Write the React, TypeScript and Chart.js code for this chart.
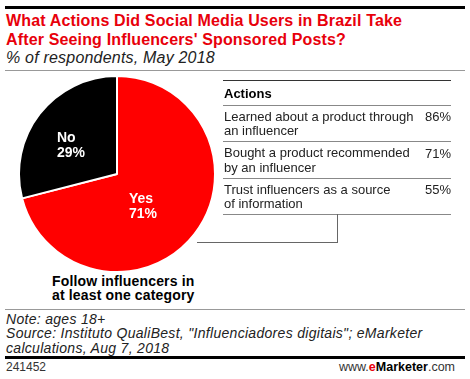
import React, { useEffect, useRef } from "react";
import { Chart, registerables } from "chart.js";

Chart.register(...registerables);

const categories = ["Yes", "No"];
const shares = [71, 29];
const sliceColors = ["#ff0000", "#000000"];

const actionLabels = [
  ["Learned about a product through", "an influencer"],
  ["Bought a product recommended", "by an influencer"],
  ["Trust influencers as a source", "of information"],
];
const actionValues = [86, 71, 55];

const FONT = "'Liberation Sans', Arial, sans-serif";

function baselineTop(baseline: number, size: number, lh: number) {
  return baseline - ((lh - 1.117 * size) / 2 + 0.905 * size);
}

function T(props: {
  x: number;
  baseline: number;
  size: number;
  lh?: number;
  bold?: boolean;
  italic?: boolean;
  color?: string;
  align?: "left" | "right";
  ls?: number;
  children: React.ReactNode;
}) {
  const lh = props.lh ?? Math.round(props.size * 1.15);
  const style: React.CSSProperties = {
    position: "absolute",
    top: baselineTop(props.baseline, props.size, lh),
    fontSize: props.size,
    lineHeight: lh + "px",
    fontWeight: props.bold ? 700 : 400,
    fontStyle: props.italic ? "italic" : "normal",
    color: props.color ?? "#000",
    whiteSpace: "nowrap",
    fontFamily: FONT,
    letterSpacing: props.ls ? props.ls + "px" : undefined,
  };
  if (props.align === "right") style.right = 470 - props.x;
  else style.left = props.x;
  return <div style={style}>{props.children}</div>;
}

function Line(p: { x: number; y: number; w: number; h: number; c: string }) {
  return (
    <div
      style={{
        position: "absolute",
        left: p.x,
        top: p.y,
        width: p.w,
        height: p.h,
        background: p.c,
      }}
    />
  );
}

export default function App() {
  const ref = useRef<HTMLCanvasElement | null>(null);
  useEffect(() => {
    if (!ref.current) return;
    const chart = new Chart(ref.current, {
      type: "pie",
      data: {
        labels: categories,
        datasets: [
          {
            data: shares,
            backgroundColor: sliceColors,
            borderColor: "#ffffff",
            borderWidth: 2,
          },
        ],
      },
      options: {
        responsive: false,
        animation: false,
        devicePixelRatio: 1,
        layout: { padding: 0 },
        plugins: { legend: { display: false }, tooltip: { enabled: false } },
      },
    });
    return () => chart.destroy();
  }, []);

  const rowLines = [105, 141, 178, 214];
  const rowBase = [121.5, 158, 194.5];

  return (
    <div
      style={{
        position: "fixed",
        left: 0,
        top: 0,
        width: 470,
        height: 379,
        background: "#fff",
        overflow: "hidden",
        fontFamily: FONT,
      }}
    >
      <Line x={5} y={6} w={460} h={3} c="#000" />
      <T x={6} baseline={26} size={16} lh={19} bold color="#e8000b" ls={0.15}>
        What Actions Did Social Media Users in Brazil Take
        <br />
        After Seeing Influencers' Sponsored Posts?
      </T>
      <T x={6} baseline={63.5} size={16} italic color="#222" ls={0.2}>
        % of respondents, May 2018
      </T>
      <Line x={5} y={70} w={460} h={1} c="#999" />

      <canvas
        ref={ref}
        width={198}
        height={198}
        style={{ position: "absolute", left: 18, top: 75, width: 198, height: 198 }}
      />
      <T x={57} baseline={142.5} size={14} lh={15} bold color="#fff">
        {categories[1]}
        <br />
        {shares[1]}%
      </T>
      <T x={129} baseline={203} size={14} lh={15} bold color="#fff">
        {categories[0]}
        <br />
        {shares[0]}%
      </T>
      <T x={52} baseline={286} size={14} lh={14.5} bold ls={0.15}>
        Follow influencers in
        <br />
        at least one category
      </T>

      <Line x={223} y={80} w={228} h={1} c="#333" />
      <T x={224} baseline={98.5} size={13} bold>
        Actions
      </T>
      {rowLines.map((y, i) => (
        <Line key={"rl" + i} x={223} y={y} w={228} h={1} c="#888" />
      ))}
      {actionLabels.map((lines, i) => (
        <T key={"al" + i} x={224} baseline={rowBase[i]} size={13} lh={14.5} color="#222">
          {lines[0]}
          <br />
          {lines[1]}
        </T>
      ))}
      {actionValues.map((v, i) => (
        <T key={"av" + i} x={451} baseline={rowBase[i]} size={13} align="right" color="#222">
          {v}%
        </T>
      ))}
      <Line x={337} y={214} w={1} h={29} c="#666" />
      <Line x={197} y={242} w={141} h={1} c="#666" />

      <Line x={5} y={309} w={460} h={1} c="#999" />
      <T x={6} baseline={324} size={14} lh={14.5} italic color="#222" ls={0.3}>
        Note: ages 18+
        <br />
        Source: Instituto QualiBest, "Influenciadores digitais"; eMarketer
        <br />
        calculations, Aug 7, 2018
      </T>
      <Line x={5} y={356} w={460} h={3} c="#000" />
      <T x={6} baseline={371.5} size={12} color="#333">
        241452
      </T>
      <T x={455} baseline={371.5} size={12.5} align="right" color="#333">
        www.<span style={{ color: "#e8000b", fontWeight: 700 }}>e</span>
        <span style={{ color: "#000", fontWeight: 700 }}>Marketer</span>.com
      </T>
    </div>
  );
}
